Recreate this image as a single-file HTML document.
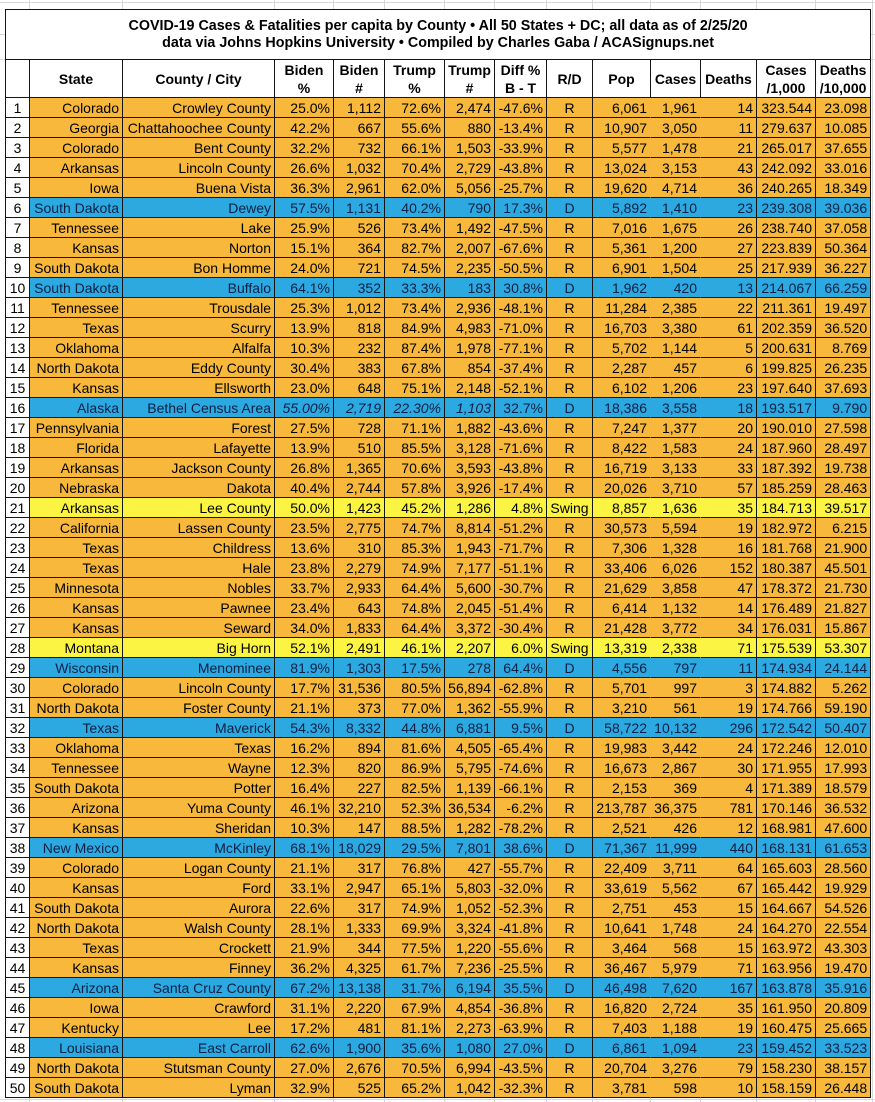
<!DOCTYPE html>
<html>
<head>
<meta charset="utf-8">
<style>
html,body{margin:0;padding:0;}
body{width:875px;height:1102px;position:relative;overflow:hidden;background:#fff;font-family:"Liberation Sans",Arial,sans-serif;color:#000;}
svg.grid{position:absolute;left:0;top:0;}
table{position:absolute;left:5px;top:9px;border-collapse:separate;border-spacing:0;table-layout:fixed;width:866px;border-left:1px solid #151515;border-top:1px solid #151515;}
td{box-sizing:border-box;border-right:1px solid #151515;border-bottom:1px solid #151515;padding:2px 3px 0 1px;white-space:nowrap;overflow:hidden;font-size:14px;line-height:17px;height:20px;text-align:right;vertical-align:top;}
tr.t td{height:50px;padding:0;text-align:center;font-weight:bold;font-size:14.3px;line-height:17px;vertical-align:middle;background:#fff;}
tr.h td{height:38px;padding:1px 0 0 0;text-align:center;font-weight:bold;line-height:18px;vertical-align:middle;background:#fff;}
tr.o td{background:#F8B83B;}
tr.b td{background:#2CA9E1;color:#0c1f45;}
tr.y td{background:#FBF443;}
tr.d td:nth-child(1){background:#fff;color:#000;text-align:center;padding:2px 0 0 0;}
tr.d td:nth-child(9){text-align:center;padding:2px 0 0 0;}
tr.d td:nth-child(10),tr.d td:nth-child(11){border-right-color:transparent;}
td.i{font-style:italic;}
</style>
</head>
<body>
<svg class="grid" width="875" height="1102" xmlns="http://www.w3.org/2000/svg">
<g stroke="#d8d8d8" stroke-width="1">
<line x1="29.5" y1="0" x2="29.5" y2="1102"/>
<line x1="122.5" y1="0" x2="122.5" y2="1102"/>
<line x1="274.5" y1="0" x2="274.5" y2="1102"/>
<line x1="333.5" y1="0" x2="333.5" y2="1102"/>
<line x1="384.5" y1="0" x2="384.5" y2="1102"/>
<line x1="444.5" y1="0" x2="444.5" y2="1102"/>
<line x1="494.5" y1="0" x2="494.5" y2="1102"/>
<line x1="546.5" y1="0" x2="546.5" y2="1102"/>
<line x1="592.5" y1="0" x2="592.5" y2="1102"/>
<line x1="650.5" y1="0" x2="650.5" y2="1102"/>
<line x1="700.5" y1="0" x2="700.5" y2="1102"/>
<line x1="756.5" y1="0" x2="756.5" y2="1102"/>
<line x1="815.5" y1="0" x2="815.5" y2="1102"/>
<line x1="872.5" y1="0" x2="872.5" y2="1102"/>
<line x1="0" y1="2.5" x2="875" y2="2.5"/>
<line x1="0" y1="34.5" x2="875" y2="34.5"/>
<line x1="0" y1="59.5" x2="875" y2="59.5"/>
<line x1="0" y1="1099.5" x2="875" y2="1099.5"/>
</g>
</svg>
<table>
<colgroup>
<col style="width:24px"><col style="width:93px"><col style="width:152px"><col style="width:59px"><col style="width:51px"><col style="width:60px"><col style="width:50px"><col style="width:52px"><col style="width:46px"><col style="width:58px"><col style="width:50px"><col style="width:56px"><col style="width:59px"><col style="width:55px">
</colgroup>
<tr class="t"><td colspan="14">COVID-19 Cases &amp; Fatalities per capita by County • All 50 States + DC; all data as of 2/25/20<br>data via Johns Hopkins University • Compiled by Charles Gaba / ACASignups.net</td></tr>
<tr class="h"><td></td><td>State</td><td>County / City</td><td>Biden<br>%</td><td>Biden<br>#</td><td>Trump<br>%</td><td>Trump<br>#</td><td>Diff %<br>B - T</td><td>R/D</td><td>Pop</td><td>Cases</td><td>Deaths</td><td>Cases<br>/1,000</td><td>Deaths<br>/10,000</td></tr>
<tr class="d o"><td>1</td><td>Colorado</td><td>Crowley County</td><td>25.0%</td><td>1,112</td><td>72.6%</td><td>2,474</td><td>-47.6%</td><td>R</td><td>6,061</td><td>1,961</td><td>14</td><td>323.544</td><td>23.098</td></tr>
<tr class="d o"><td>2</td><td>Georgia</td><td>Chattahoochee County</td><td>42.2%</td><td>667</td><td>55.6%</td><td>880</td><td>-13.4%</td><td>R</td><td>10,907</td><td>3,050</td><td>11</td><td>279.637</td><td>10.085</td></tr>
<tr class="d o"><td>3</td><td>Colorado</td><td>Bent County</td><td>32.2%</td><td>732</td><td>66.1%</td><td>1,503</td><td>-33.9%</td><td>R</td><td>5,577</td><td>1,478</td><td>21</td><td>265.017</td><td>37.655</td></tr>
<tr class="d o"><td>4</td><td>Arkansas</td><td>Lincoln County</td><td>26.6%</td><td>1,032</td><td>70.4%</td><td>2,729</td><td>-43.8%</td><td>R</td><td>13,024</td><td>3,153</td><td>43</td><td>242.092</td><td>33.016</td></tr>
<tr class="d o"><td>5</td><td>Iowa</td><td>Buena Vista</td><td>36.3%</td><td>2,961</td><td>62.0%</td><td>5,056</td><td>-25.7%</td><td>R</td><td>19,620</td><td>4,714</td><td>36</td><td>240.265</td><td>18.349</td></tr>
<tr class="d b"><td>6</td><td>South Dakota</td><td>Dewey</td><td>57.5%</td><td>1,131</td><td>40.2%</td><td>790</td><td>17.3%</td><td>D</td><td>5,892</td><td>1,410</td><td>23</td><td>239.308</td><td>39.036</td></tr>
<tr class="d o"><td>7</td><td>Tennessee</td><td>Lake</td><td>25.9%</td><td>526</td><td>73.4%</td><td>1,492</td><td>-47.5%</td><td>R</td><td>7,016</td><td>1,675</td><td>26</td><td>238.740</td><td>37.058</td></tr>
<tr class="d o"><td>8</td><td>Kansas</td><td>Norton</td><td>15.1%</td><td>364</td><td>82.7%</td><td>2,007</td><td>-67.6%</td><td>R</td><td>5,361</td><td>1,200</td><td>27</td><td>223.839</td><td>50.364</td></tr>
<tr class="d o"><td>9</td><td>South Dakota</td><td>Bon Homme</td><td>24.0%</td><td>721</td><td>74.5%</td><td>2,235</td><td>-50.5%</td><td>R</td><td>6,901</td><td>1,504</td><td>25</td><td>217.939</td><td>36.227</td></tr>
<tr class="d b"><td>10</td><td>South Dakota</td><td>Buffalo</td><td>64.1%</td><td>352</td><td>33.3%</td><td>183</td><td>30.8%</td><td>D</td><td>1,962</td><td>420</td><td>13</td><td>214.067</td><td>66.259</td></tr>
<tr class="d o"><td>11</td><td>Tennessee</td><td>Trousdale</td><td>25.3%</td><td>1,012</td><td>73.4%</td><td>2,936</td><td>-48.1%</td><td>R</td><td>11,284</td><td>2,385</td><td>22</td><td>211.361</td><td>19.497</td></tr>
<tr class="d o"><td>12</td><td>Texas</td><td>Scurry</td><td>13.9%</td><td>818</td><td>84.9%</td><td>4,983</td><td>-71.0%</td><td>R</td><td>16,703</td><td>3,380</td><td>61</td><td>202.359</td><td>36.520</td></tr>
<tr class="d o"><td>13</td><td>Oklahoma</td><td>Alfalfa</td><td>10.3%</td><td>232</td><td>87.4%</td><td>1,978</td><td>-77.1%</td><td>R</td><td>5,702</td><td>1,144</td><td>5</td><td>200.631</td><td>8.769</td></tr>
<tr class="d o"><td>14</td><td>North Dakota</td><td>Eddy County</td><td>30.4%</td><td>383</td><td>67.8%</td><td>854</td><td>-37.4%</td><td>R</td><td>2,287</td><td>457</td><td>6</td><td>199.825</td><td>26.235</td></tr>
<tr class="d o"><td>15</td><td>Kansas</td><td>Ellsworth</td><td>23.0%</td><td>648</td><td>75.1%</td><td>2,148</td><td>-52.1%</td><td>R</td><td>6,102</td><td>1,206</td><td>23</td><td>197.640</td><td>37.693</td></tr>
<tr class="d b"><td>16</td><td>Alaska</td><td>Bethel Census Area</td><td class="i">55.00%</td><td class="i">2,719</td><td class="i">22.30%</td><td class="i">1,103</td><td>32.7%</td><td>D</td><td>18,386</td><td>3,558</td><td>18</td><td>193.517</td><td>9.790</td></tr>
<tr class="d o"><td>17</td><td>Pennsylvania</td><td>Forest</td><td>27.5%</td><td>728</td><td>71.1%</td><td>1,882</td><td>-43.6%</td><td>R</td><td>7,247</td><td>1,377</td><td>20</td><td>190.010</td><td>27.598</td></tr>
<tr class="d o"><td>18</td><td>Florida</td><td>Lafayette</td><td>13.9%</td><td>510</td><td>85.5%</td><td>3,128</td><td>-71.6%</td><td>R</td><td>8,422</td><td>1,583</td><td>24</td><td>187.960</td><td>28.497</td></tr>
<tr class="d o"><td>19</td><td>Arkansas</td><td>Jackson County</td><td>26.8%</td><td>1,365</td><td>70.6%</td><td>3,593</td><td>-43.8%</td><td>R</td><td>16,719</td><td>3,133</td><td>33</td><td>187.392</td><td>19.738</td></tr>
<tr class="d o"><td>20</td><td>Nebraska</td><td>Dakota</td><td>40.4%</td><td>2,744</td><td>57.8%</td><td>3,926</td><td>-17.4%</td><td>R</td><td>20,026</td><td>3,710</td><td>57</td><td>185.259</td><td>28.463</td></tr>
<tr class="d y"><td>21</td><td>Arkansas</td><td>Lee County</td><td>50.0%</td><td>1,423</td><td>45.2%</td><td>1,286</td><td>4.8%</td><td>Swing</td><td>8,857</td><td>1,636</td><td>35</td><td>184.713</td><td>39.517</td></tr>
<tr class="d o"><td>22</td><td>California</td><td>Lassen County</td><td>23.5%</td><td>2,775</td><td>74.7%</td><td>8,814</td><td>-51.2%</td><td>R</td><td>30,573</td><td>5,594</td><td>19</td><td>182.972</td><td>6.215</td></tr>
<tr class="d o"><td>23</td><td>Texas</td><td>Childress</td><td>13.6%</td><td>310</td><td>85.3%</td><td>1,943</td><td>-71.7%</td><td>R</td><td>7,306</td><td>1,328</td><td>16</td><td>181.768</td><td>21.900</td></tr>
<tr class="d o"><td>24</td><td>Texas</td><td>Hale</td><td>23.8%</td><td>2,279</td><td>74.9%</td><td>7,177</td><td>-51.1%</td><td>R</td><td>33,406</td><td>6,026</td><td>152</td><td>180.387</td><td>45.501</td></tr>
<tr class="d o"><td>25</td><td>Minnesota</td><td>Nobles</td><td>33.7%</td><td>2,933</td><td>64.4%</td><td>5,600</td><td>-30.7%</td><td>R</td><td>21,629</td><td>3,858</td><td>47</td><td>178.372</td><td>21.730</td></tr>
<tr class="d o"><td>26</td><td>Kansas</td><td>Pawnee</td><td>23.4%</td><td>643</td><td>74.8%</td><td>2,045</td><td>-51.4%</td><td>R</td><td>6,414</td><td>1,132</td><td>14</td><td>176.489</td><td>21.827</td></tr>
<tr class="d o"><td>27</td><td>Kansas</td><td>Seward</td><td>34.0%</td><td>1,833</td><td>64.4%</td><td>3,372</td><td>-30.4%</td><td>R</td><td>21,428</td><td>3,772</td><td>34</td><td>176.031</td><td>15.867</td></tr>
<tr class="d y"><td>28</td><td>Montana</td><td>Big Horn</td><td>52.1%</td><td>2,491</td><td>46.1%</td><td>2,207</td><td>6.0%</td><td>Swing</td><td>13,319</td><td>2,338</td><td>71</td><td>175.539</td><td>53.307</td></tr>
<tr class="d b"><td>29</td><td>Wisconsin</td><td>Menominee</td><td>81.9%</td><td>1,303</td><td>17.5%</td><td>278</td><td>64.4%</td><td>D</td><td>4,556</td><td>797</td><td>11</td><td>174.934</td><td>24.144</td></tr>
<tr class="d o"><td>30</td><td>Colorado</td><td>Lincoln County</td><td>17.7%</td><td>31,536</td><td>80.5%</td><td>56,894</td><td>-62.8%</td><td>R</td><td>5,701</td><td>997</td><td>3</td><td>174.882</td><td>5.262</td></tr>
<tr class="d o"><td>31</td><td>North Dakota</td><td>Foster County</td><td>21.1%</td><td>373</td><td>77.0%</td><td>1,362</td><td>-55.9%</td><td>R</td><td>3,210</td><td>561</td><td>19</td><td>174.766</td><td>59.190</td></tr>
<tr class="d b"><td>32</td><td>Texas</td><td>Maverick</td><td>54.3%</td><td>8,332</td><td>44.8%</td><td>6,881</td><td>9.5%</td><td>D</td><td>58,722</td><td>10,132</td><td>296</td><td>172.542</td><td>50.407</td></tr>
<tr class="d o"><td>33</td><td>Oklahoma</td><td>Texas</td><td>16.2%</td><td>894</td><td>81.6%</td><td>4,505</td><td>-65.4%</td><td>R</td><td>19,983</td><td>3,442</td><td>24</td><td>172.246</td><td>12.010</td></tr>
<tr class="d o"><td>34</td><td>Tennessee</td><td>Wayne</td><td>12.3%</td><td>820</td><td>86.9%</td><td>5,795</td><td>-74.6%</td><td>R</td><td>16,673</td><td>2,867</td><td>30</td><td>171.955</td><td>17.993</td></tr>
<tr class="d o"><td>35</td><td>South Dakota</td><td>Potter</td><td>16.4%</td><td>227</td><td>82.5%</td><td>1,139</td><td>-66.1%</td><td>R</td><td>2,153</td><td>369</td><td>4</td><td>171.389</td><td>18.579</td></tr>
<tr class="d o"><td>36</td><td>Arizona</td><td>Yuma County</td><td>46.1%</td><td>32,210</td><td>52.3%</td><td>36,534</td><td>-6.2%</td><td>R</td><td>213,787</td><td>36,375</td><td>781</td><td>170.146</td><td>36.532</td></tr>
<tr class="d o"><td>37</td><td>Kansas</td><td>Sheridan</td><td>10.3%</td><td>147</td><td>88.5%</td><td>1,282</td><td>-78.2%</td><td>R</td><td>2,521</td><td>426</td><td>12</td><td>168.981</td><td>47.600</td></tr>
<tr class="d b"><td>38</td><td>New Mexico</td><td>McKinley</td><td>68.1%</td><td>18,029</td><td>29.5%</td><td>7,801</td><td>38.6%</td><td>D</td><td>71,367</td><td>11,999</td><td>440</td><td>168.131</td><td>61.653</td></tr>
<tr class="d o"><td>39</td><td>Colorado</td><td>Logan County</td><td>21.1%</td><td>317</td><td>76.8%</td><td>427</td><td>-55.7%</td><td>R</td><td>22,409</td><td>3,711</td><td>64</td><td>165.603</td><td>28.560</td></tr>
<tr class="d o"><td>40</td><td>Kansas</td><td>Ford</td><td>33.1%</td><td>2,947</td><td>65.1%</td><td>5,803</td><td>-32.0%</td><td>R</td><td>33,619</td><td>5,562</td><td>67</td><td>165.442</td><td>19.929</td></tr>
<tr class="d o"><td>41</td><td>South Dakota</td><td>Aurora</td><td>22.6%</td><td>317</td><td>74.9%</td><td>1,052</td><td>-52.3%</td><td>R</td><td>2,751</td><td>453</td><td>15</td><td>164.667</td><td>54.526</td></tr>
<tr class="d o"><td>42</td><td>North Dakota</td><td>Walsh County</td><td>28.1%</td><td>1,333</td><td>69.9%</td><td>3,324</td><td>-41.8%</td><td>R</td><td>10,641</td><td>1,748</td><td>24</td><td>164.270</td><td>22.554</td></tr>
<tr class="d o"><td>43</td><td>Texas</td><td>Crockett</td><td>21.9%</td><td>344</td><td>77.5%</td><td>1,220</td><td>-55.6%</td><td>R</td><td>3,464</td><td>568</td><td>15</td><td>163.972</td><td>43.303</td></tr>
<tr class="d o"><td>44</td><td>Kansas</td><td>Finney</td><td>36.2%</td><td>4,325</td><td>61.7%</td><td>7,236</td><td>-25.5%</td><td>R</td><td>36,467</td><td>5,979</td><td>71</td><td>163.956</td><td>19.470</td></tr>
<tr class="d b"><td>45</td><td>Arizona</td><td>Santa Cruz County</td><td>67.2%</td><td>13,138</td><td>31.7%</td><td>6,194</td><td>35.5%</td><td>D</td><td>46,498</td><td>7,620</td><td>167</td><td>163.878</td><td>35.916</td></tr>
<tr class="d o"><td>46</td><td>Iowa</td><td>Crawford</td><td>31.1%</td><td>2,220</td><td>67.9%</td><td>4,854</td><td>-36.8%</td><td>R</td><td>16,820</td><td>2,724</td><td>35</td><td>161.950</td><td>20.809</td></tr>
<tr class="d o"><td>47</td><td>Kentucky</td><td>Lee</td><td>17.2%</td><td>481</td><td>81.1%</td><td>2,273</td><td>-63.9%</td><td>R</td><td>7,403</td><td>1,188</td><td>19</td><td>160.475</td><td>25.665</td></tr>
<tr class="d b"><td>48</td><td>Louisiana</td><td>East Carroll</td><td>62.6%</td><td>1,900</td><td>35.6%</td><td>1,080</td><td>27.0%</td><td>D</td><td>6,861</td><td>1,094</td><td>23</td><td>159.452</td><td>33.523</td></tr>
<tr class="d o"><td>49</td><td>North Dakota</td><td>Stutsman County</td><td>27.0%</td><td>2,676</td><td>70.5%</td><td>6,994</td><td>-43.5%</td><td>R</td><td>20,704</td><td>3,276</td><td>79</td><td>158.230</td><td>38.157</td></tr>
<tr class="d o"><td>50</td><td>South Dakota</td><td>Lyman</td><td>32.9%</td><td>525</td><td>65.2%</td><td>1,042</td><td>-32.3%</td><td>R</td><td>3,781</td><td>598</td><td>10</td><td>158.159</td><td>26.448</td></tr>
</table>
</body>
</html>
